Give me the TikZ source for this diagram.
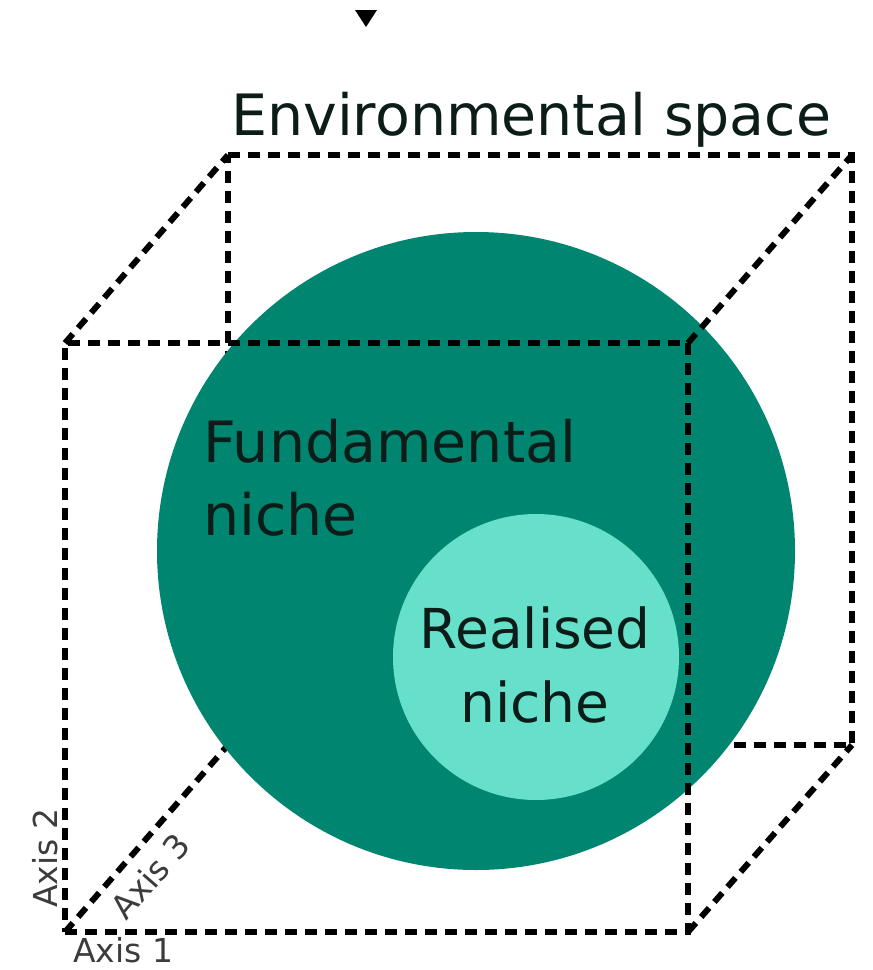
\documentclass[tikz,border=0pt]{standalone}
\usepackage{fontspec}
\setmainfont{DejaVu Sans}
\usetikzlibrary{positioning}
\definecolor{teal}{RGB}{0,134,112}
\definecolor{mint}{RGB}{102,224,203}
\definecolor{ink}{RGB}{12,28,24}
\definecolor{graytxt}{RGB}{60,60,60}
\tikzset{
  edge/.style={draw=black,line width=6pt,dash pattern=on 12pt off 8pt},
  niche/.style={fill=#1},
  niche/.default=teal,
  label big/.style={font=\fontsize{57}{73}\selectfont,text=ink,inner sep=0pt},
  axis tag/.style={font=\fontsize{33}{36}\selectfont,text=graytxt,inner sep=0pt},
}
\begin{document}
\begin{tikzpicture}[x=1pt,y=-1pt]
  \useasboundingbox (0,0) rectangle (873,970);
  % cube corners
  \coordinate (fbl) at (65,932);
  \coordinate (fbr) at (688,932);
  \coordinate (ftr) at (688,343);
  \coordinate (ftl) at (65,343);
  \coordinate (bbl) at (228,745);
  \coordinate (bbr) at (852,745);
  \coordinate (btr) at (852,155);
  \coordinate (btl) at (228,155);
  % hidden back edges
  \draw[edge] (btl) -- (btr) -- (bbr) -- (bbl) -- cycle;
  \draw[edge] (fbl) -- (bbl);
  % niches
  \fill[niche] (476,551) circle[radius=319pt];
  \fill[niche=mint] (536,657) circle[radius=143pt];
  % front edges
  \draw[edge] (fbl) -- (fbr) -- (ftr) -- (ftl) -- cycle;
  \draw[edge] (ftl) -- (btl);
  \draw[edge] (ftr) -- (btr);
  \draw[edge] (fbr) -- (bbr);
  % marker
  \fill[black] (355,10) -- (377,10) -- (366,27) -- cycle;
  % labels
  \node[label big,anchor=base west] (envspace) at (231,135) {Environmental space};
  \node[label big,anchor=base west,align=left] (fundniche) at (203,535) {Fundamental\\niche};
  \node[label big,font=\fontsize{55}{74}\selectfont,anchor=base,align=center] (realniche) at (535,722) {Realised\\niche};
  \node[axis tag,anchor=base west] (axisA) at (73,962) {Axis 1};
  \node[axis tag,rotate=90] (axisB) at (45,858) {Axis 2};
  \node[axis tag,rotate=49] (axisC) at (150,876) {Axis 3};
\end{tikzpicture}
\end{document}
